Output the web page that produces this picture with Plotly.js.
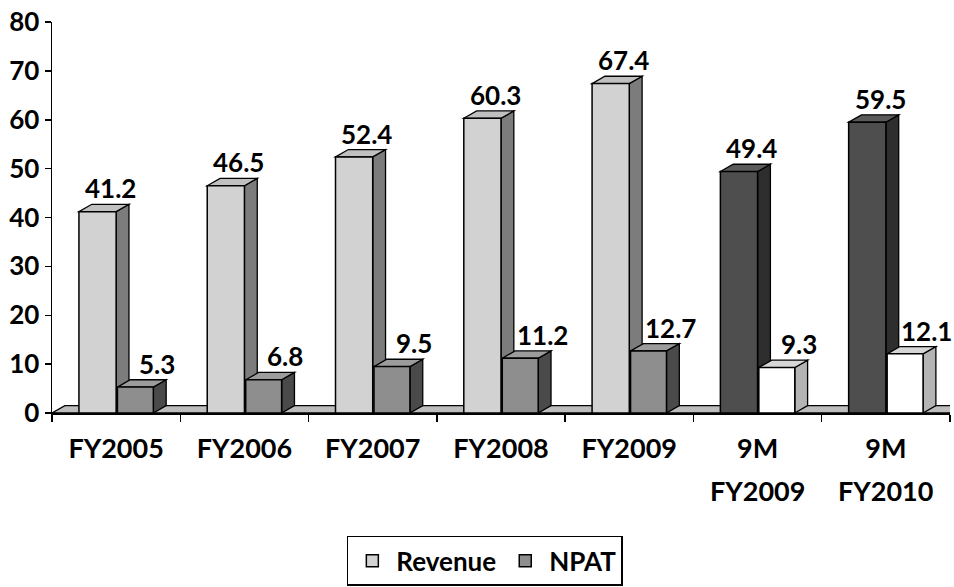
<!DOCTYPE html>
<html>
<head>
<meta charset="utf-8">
<script src="https://cdn.plot.ly/plotly-3.0.1.min.js"></script>
<style>html,body{margin:0;padding:0;background:#fff;}#chart{width:954px;height:587px;}</style>
</head>
<body>
<div id="chart"></div>
<script>
// ---- data ----
const categories = ['FY2005', 'FY2006', 'FY2007', 'FY2008', 'FY2009', '9M FY2009', '9M FY2010'];
const tickLine1 = ['FY2005', 'FY2006', 'FY2007', 'FY2008', 'FY2009', '9M', '9M'];
const tickLine2 = ['', '', '', '', '', 'FY2009', 'FY2010'];
const revenue = [41.2, 46.5, 52.4, 60.3, 67.4, 49.4, 59.5];
const npat = [5.3, 6.8, 9.5, 11.2, 12.7, 9.3, 12.1];
const yTicks = [0, 10, 20, 30, 40, 50, 60, 70, 80];

// ---- styling / geometry ----
const FONT = 'Lato, "Open Sans", "DejaVu Sans", sans-serif';
const W = 0.29, DX = 0.1, DY = 1.5;
const revOffset = -0.29, npatOffset = 0.01, npatW = 0.28;
const revColors = categories.map((c, i) => i < 5 ? '#d2d2d2' : '#4e4e4e');
const revSide = categories.map((c, i) => i < 5 ? '#7c7c7c' : '#2e2e2e');
const revTop = categories.map((c, i) => i < 5 ? '#c0c0c0' : '#5a5a5a');
const npatColors = categories.map((c, i) => i < 5 ? '#8e8e8e' : '#ffffff');
const npatSide = categories.map((c, i) => i < 5 ? '#4a4a4a' : '#b4b4b4');
const npatTop = categories.map((c, i) => i < 5 ? '#9c9c9c' : '#d6d6d6');

const xs = categories.map((c, i) => i);
const bold = (size) => ({family: FONT, size: size, color: '#000', weight: 'bold'});

const traces = [
  {type: 'bar', name: 'Revenue', x: xs, y: revenue, width: W, offset: revOffset,
   marker: {color: revColors, line: {color: '#000', width: 1.5}}, hoverinfo: 'y'},
  {type: 'bar', name: 'NPAT', x: xs, y: npat, width: npatW, offset: npatOffset,
   marker: {color: npatColors, line: {color: '#000', width: 1.5}}, hoverinfo: 'y'}
];

function box3d(x0, x1, v, sideCol, topCol) {
  return [
    {type: 'path', layer: 'below', xref: 'x', yref: 'y',
     path: `M${x1},0 L${x1},${v} L${x1 + DX},${v + DY} L${x1 + DX},${DY} Z`,
     fillcolor: sideCol, line: {color: '#000', width: 1.3}},
    {type: 'path', layer: 'below', xref: 'x', yref: 'y',
     path: `M${x0},${v} L${x1},${v} L${x1 + DX},${v + DY} L${x0 + DX},${v + DY} Z`,
     fillcolor: topCol, line: {color: '#000', width: 1.3}}
  ];
}

let shapes = [
  {type: 'path', layer: 'below', xref: 'x', yref: 'y',
   path: `M-0.5,0 L${-0.5 + DX},${DY} L${6.6 + DX},${DY} L6.6,0 Z`,
   fillcolor: '#bdbdbd', line: {color: '#000', width: 1.3}}
];
xs.forEach(i => {
  shapes = shapes.concat(box3d(i + revOffset, i + revOffset + W, revenue[i], revSide[i], revTop[i]));
  shapes = shapes.concat(box3d(i + npatOffset, i + npatOffset + npatW, npat[i], npatSide[i], npatTop[i]));
});

const annotations = [];
xs.forEach(i => {
  annotations.push({x: i + revOffset + W / 2 + DX / 2 + 0.05, y: revenue[i] + DY, xref: 'x', yref: 'y',
    text: revenue[i].toFixed(1), showarrow: false, yanchor: 'bottom', yshift: -2, font: bold(26)});
  annotations.push({x: i + npatOffset + npatW / 2 + 0.17, y: npat[i] + DY, xref: 'x', yref: 'y',
    text: npat[i].toFixed(1), showarrow: false, yanchor: 'bottom', yshift: -2, font: bold(26)});
  if (tickLine2[i]) {
    annotations.push({x: i, y: 0, xref: 'x', yref: 'paper', yanchor: 'top', yshift: -59,
      text: tickLine2[i], showarrow: false, font: bold(27)});
  }
});

const layout = {
  width: 954, height: 587,
  margin: {l: 52, r: 4, t: 22, b: 174, autoexpand: false},
  paper_bgcolor: '#fff', plot_bgcolor: '#fff',
  font: bold(26),
  barmode: 'overlay',
  showlegend: true,
  legend: {orientation: 'h', x: 0.482, xanchor: 'center', yref: 'container', y: 0.002, yanchor: 'bottom',
    bordercolor: '#000', borderwidth: 1.5, font: bold(26), traceorder: 'normal', itemwidth: 38},
  xaxis: {range: [-0.5, 6.5], tickmode: 'array', tickvals: xs, ticktext: tickLine1,
    ticks: '', showgrid: false, zeroline: false, showline: true, linecolor: '#000', linewidth: 1.5,
    ticklabelstandoff: 11, tickfont: bold(27),
    minor: {tickmode: 'array', tickvals: [-0.5, 0.5, 1.5, 2.5, 3.5, 4.5, 5.5, 6.5], ticks: 'outside',
      ticklen: 7, tickwidth: 1.5, tickcolor: '#000', showgrid: false}},
  yaxis: {range: [0, 80], tickmode: 'array', tickvals: yTicks, ticks: 'outside', ticklen: 6,
    tickwidth: 1.5, tickcolor: '#000', showgrid: false, zeroline: false, showline: true,
    linecolor: '#000', linewidth: 1.5, tickfont: bold(26)},
  shapes: shapes,
  annotations: annotations
};

Plotly.newPlot('chart', traces, layout, {displayModeBar: false, staticPlot: true});
</script>
</body>
</html>
